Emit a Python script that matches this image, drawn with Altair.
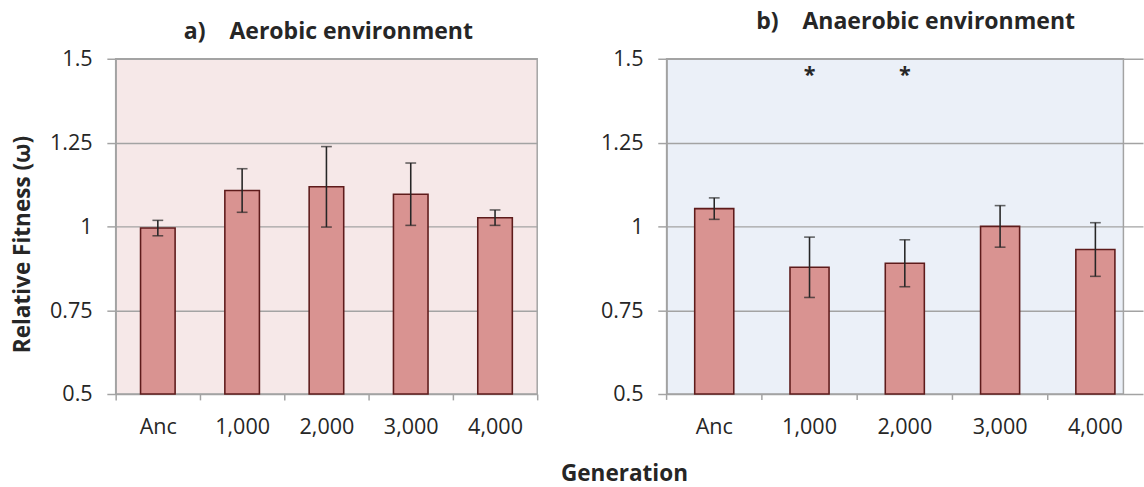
import altair as alt
import pandas as pd

# ---- data ----
generations = ["Anc", "1,000", "2,000", "3,000", "4,000"]
aerobic_mean = [0.995, 1.107, 1.118, 1.096, 1.026]
aerobic_err = [0.023, 0.065, 0.120, 0.093, 0.023]
aerobic_sig = ["", "", "", "", ""]
anaerobic_mean = [1.053, 0.878, 0.890, 1.000, 0.931]
anaerobic_err = [0.032, 0.090, 0.070, 0.062, 0.080]
anaerobic_sig = ["", "*", "*", "", ""]
y_ticks = [0.5, 0.75, 1.0, 1.25, 1.5]

FONT = "Open Sans"
GRID = "#a3a3a3"
TEXT = "#262626"
BAR_FILL = "#d99391"
BAR_STROKE = "#5e1b1b"
ERR = "#262626"
H = 342


def frame(means, errs, sig):
    return pd.DataFrame({
        "Generation": generations,
        "mean": means,
        "lo": [m - e for m, e in zip(means, errs)],
        "hi": [m + e for m, e in zip(means, errs)],
        "sig": sig,
    })


def panel(df, title, bg, width, x_range, title_offset, title_dx, left):
    if x_range is None:
        xscale = alt.Scale(domain=generations, paddingInner=0, paddingOuter=0)
        xaxis = alt.Axis(title=None, tickBand="extent", ticks=True, tickSize=6,
                         tickColor=GRID, tickWidth=1.5, domain=False, grid=False,
                         labelFont=FONT, labelFontSize=22, labelColor=TEXT,
                         labelPadding=17, labelAngle=0)
    else:
        xscale = alt.Scale(domain=generations, paddingInner=0, paddingOuter=0,
                           range=x_range)
        xaxis = alt.Axis(title=None, ticks=True, tickOpacity=0, tickSize=6,
                         domain=False, grid=False,
                         labelFont=FONT, labelFontSize=22, labelColor=TEXT,
                         labelPadding=17, labelAngle=0)
    x = alt.X("Generation:N", scale=xscale, axis=xaxis, sort=generations)

    yaxis_kw = dict(values=y_ticks, labelExpr="datum.value + ''", grid=True,
                    gridColor=GRID, gridWidth=1.5, domain=True, domainColor=GRID,
                    domainWidth=1.5, ticks=True, tickColor=GRID, tickSize=9,
                    tickWidth=1.5, labelFont=FONT, labelFontSize=22,
                    labelColor=TEXT, labelPadding=15)
    if left:
        yaxis = alt.Axis(title="Relative Fitness (ω)", titleFont=FONT,
                         titleFontSize=23, titleFontWeight="bold",
                         titleColor=TEXT, titleX=-88, titleY=189,
                         titleAngle=270, titleAlign="center",
                         titleBaseline="alphabetic", **yaxis_kw)
    else:
        yaxis = alt.Axis(title=None, **yaxis_kw)
    yscale = alt.Scale(domain=[0.5, 1.5], nice=False, zero=False)

    base = alt.Chart(df)
    bars = base.mark_bar(width=alt.RelativeBandSize(0.41), fill=BAR_FILL,
                         stroke=BAR_STROKE, strokeWidth=1.6).encode(
        x=x, y=alt.Y("mean:Q", scale=yscale, axis=yaxis), y2=alt.datum(0.5))
    err = base.mark_rule(color=ERR, strokeWidth=1.6).encode(
        x=x, y="lo:Q", y2="hi:Q")
    cap_lo = base.mark_tick(color=ERR, size=11, thickness=1.6,
                            orient="horizontal").encode(x=x, y="lo:Q")
    cap_hi = base.mark_tick(color=ERR, size=11, thickness=1.6,
                            orient="horizontal").encode(x=x, y="hi:Q")
    stars = base.transform_filter("datum.sig != ''").mark_text(
        font=FONT, fontSize=22, fontWeight="bold", color=TEXT,
        baseline="alphabetic").encode(x=x, y=alt.datum(1.43), text="sig:N")
    layers = [bars, err, cap_lo, cap_hi, stars]
    if x_range is not None:
        ticks = base.mark_rule(color=GRID, strokeWidth=1.5).encode(
            x=alt.X("Generation:N", scale=xscale, axis=xaxis, sort=generations,
                    bandPosition=0),
            y=alt.value(H), y2=alt.value(H + 6))
        layers.append(ticks)

    return alt.layer(*layers).properties(
        width=width, height=H,
        view=alt.ViewBackground(fill=bg, stroke=GRID, strokeWidth=1.5),
        title=alt.TitleParams(title, font=FONT, fontSize=23.5, fontWeight="bold",
                              color=TEXT, anchor="middle", frame="group",
                              baseline="alphabetic", offset=title_offset,
                              dx=title_dx),
    )


left = panel(frame(aerobic_mean, aerobic_err, aerobic_sig),
             "a)\u00a0\u00a0\u00a0\u00a0Aerobic environment", "#f6e8e8",
             430, None, -14, 2, True)
right = panel(frame(anaerobic_mean, anaerobic_err, anaerobic_sig),
              "b)\u00a0\u00a0\u00a0\u00a0Anaerobic environment", "#ebf0f8",
              466, [0, 486], -4, 21, False)

chart = alt.hconcat(left, right, spacing=61).properties(
    padding={"left": 11, "top": 4, "right": 0, "bottom": 0},
    title=alt.TitleParams("Generation", orient="bottom", anchor="middle",
                          font=FONT, fontSize=23, fontWeight="bold",
                          color=TEXT, baseline="alphabetic", offset=44, dx=48),
).configure(background="white")

chart.save("out.html", embed_options={"renderer": "svg", "actions": False})
